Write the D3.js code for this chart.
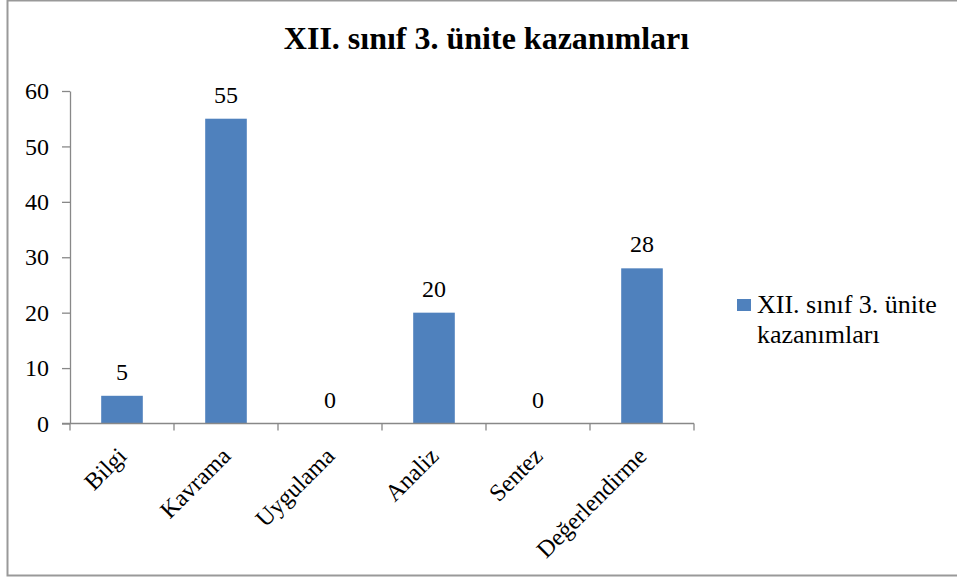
<!DOCTYPE html>
<html>
<head>
<meta charset="utf-8">
<script src="https://cdn.jsdelivr.net/npm/d3@7"></script>
<style>
  body { margin: 0; background: #fff; }
  svg text, svg tspan { font-family: "Liberation Serif", "Times New Roman", "DejaVu Serif", serif !important; fill: #000; }
</style>
</head>
<body>
<svg id="chart"></svg>
<script>
// chart data
const categories = ["Bilgi", "Kavrama", "Uygulama", "Analiz", "Sentez", "Değerlendirme"];
const values = [5, 55, 0, 20, 0, 28];
const yTicks = [0, 10, 20, 30, 40, 50, 60];
const seriesName = ["XII. sınıf 3. ünite", "kazanımları"];
const titleText = "XII. sınıf 3. ünite kazanımları";

const serif = '"Liberation Serif", "Times New Roman", serif';

function drawChart() {
  const W = 957, H = 577;
  const plot = { left: 70, right: 694, top: 91, bottom: 423.5 };

  const svg = d3.select('#chart')
    .attr('width', W)
    .attr('height', H)
    .attr('font-family', serif);

  // outer frame (right side is cut off in the original)
  svg.append('rect')
    .attr('x', 7.5)
    .attr('y', 0.5)
    .attr('width', 980)
    .attr('height', 575)
    .style('fill', 'none')
    .style('stroke', '#999')
    .style('stroke-width', 2);

  svg.append('text')
    .attr('x', 486.5)
    .attr('y', 49)
    .attr('text-anchor', 'middle')
    .style('font-family', serif)
    .attr('font-size', '32px')
    .attr('font-weight', 'bold')
    .text(titleText);

  const x = d3.scaleBand()
    .domain(categories)
    .range([plot.left, plot.right])
    .padding(0);

  const y = d3.scaleLinear()
    .domain([0, 60])
    .range([plot.bottom, plot.top]);

  const barW = x.bandwidth() * 0.4;

  // bars
  svg.append('g').selectAll('rect')
    .data(values)
    .enter().append('rect')
    .attr('x', (d, i) => x(categories[i]) + (x.bandwidth() - barW) / 2)
    .attr('y', d => y(d))
    .attr('width', barW)
    .attr('height', d => y(0) - y(d))
    .style('fill', '#4F81BD');

  // value labels
  svg.append('g').selectAll('text')
    .data(values)
    .enter().append('text')
    .attr('x', (d, i) => x(categories[i]) + x.bandwidth() / 2)
    .attr('y', d => y(d) - 16)
    .attr('text-anchor', 'middle')
    .style('font-family', serif)
    .attr('font-size', '24px')
    .text(d => d);

  // y axis
  const yAxis = svg.append('g')
    .attr('transform', `translate(${plot.left},0)`)
    .call(d3.axisLeft(y).tickValues(yTicks).tickSize(8).tickSizeOuter(0).tickPadding(13));
  yAxis.attr('font-family', null);
  yAxis.selectAll('path, line').style('stroke', '#888').style('stroke-width', 1.3);
  yAxis.selectAll('text')
    .attr('font-size', '24px')
    .style('font-family', serif)
    .style('fill', '#000');

  // x axis with boundary ticks
  const xAxis = svg.append('g')
    .attr('transform', `translate(0,${plot.bottom})`);
  xAxis.append('line')
    .attr('x1', plot.left - 8)
    .attr('x2', plot.right)
    .style('stroke', '#888')
    .style('stroke-width', 1.3);
  const bounds = categories.map(c => x(c)).concat([plot.right]);
  xAxis.selectAll('line.tick')
    .data(bounds)
    .enter().append('line')
    .attr('class', 'tick')
    .attr('x1', d => d)
    .attr('x2', d => d)
    .attr('y1', 0)
    .attr('y2', 7)
    .style('stroke', '#888')
    .style('stroke-width', 1.3);
  xAxis.selectAll('text')
    .data(categories)
    .enter().append('text')
    .attr('transform', d => `translate(${x(d) + x.bandwidth() / 2},${28}) rotate(-45)`)
    .attr('text-anchor', 'end')
    .attr('dy', '0.35em')
    .style('font-family', serif)
    .attr('font-size', '24px')
    .text(d => d);

  // legend
  const legend = svg.append('g').attr('transform', 'translate(737,299)');
  legend.append('rect')
    .attr('width', 14)
    .attr('height', 12)
    .style('fill', '#4F81BD');
  const lt = legend.append('text')
    .attr('x', 20)
    .attr('y', 14)
    .style('font-family', serif)
    .attr('font-size', '26px');
  lt.append('tspan').attr('x', 20).text(seriesName[0]);
  lt.append('tspan').attr('x', 20).attr('dy', 30).text(seriesName[1]);
}

drawChart();
</script>
</body>
</html>
